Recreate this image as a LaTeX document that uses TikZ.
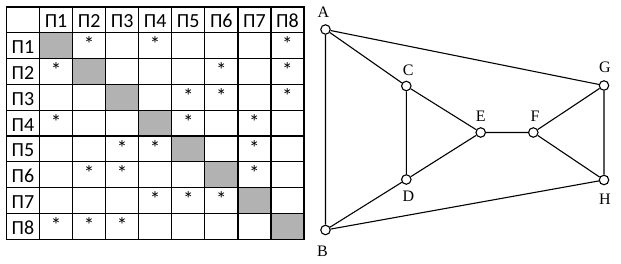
\documentclass[tikz,border=0pt]{standalone}
\usepackage{fontspec}
\setmainfont{Liberation Serif}
\newfontfamily\tabfont{Carlito}
\usepackage{tikz}
\usetikzlibrary{positioning}

\begin{document}
\begin{tikzpicture}[x=1pt, y=-1pt, line/.style={draw, line width=1.1pt},
  vtx/.style={circle, draw, line width=1.1pt, fill=white, inner sep=0pt, minimum size=9.5pt},
  lbl/.style={font=\fontsize{16}{19}\selectfont},
  cell/.style={anchor=base, inner sep=0pt, font=\tabfont\fontsize{20}{22}\selectfont},
  ast/.style={inner sep=0pt, font=\tabfont\fontsize{21}{24}\selectfont}]
\useasboundingbox (0,0) rectangle (621,264);
% table
\begin{scope}[shift={(6.5,7)}, x=33.05pt, y=-25.8pt]
\foreach \k in {1,...,8} \fill[black!30] (\k,\k) rectangle (\k+1,\k+1);
\foreach \k in {1,...,8} {
  \draw[line width=1.3pt] (\k,0) -- (\k,9);
  \draw[line width=1.3pt] (0,\k) -- (9,\k);
}
\draw[line width=1.3pt] (0,0) rectangle (9,9);
\foreach \k in {1,...,8} {
  \node[cell] (c\k) at (\k+0.5,0.81) {П\k};
  \node[cell] (r\k) at (0.5,\k+0.81) {П\k};
}
\foreach \r/\c in {1/2,1/4,1/8, 2/1,2/6,2/8, 3/5,3/6,3/8, 4/1,4/5,4/7,
                   5/3,5/4,5/7, 6/2,6/3,6/7, 7/4,7/5,7/6, 8/1,8/2,8/3}
  \node[ast] (s\r\c) at (\c+0.5,\r+0.45) {*};
\end{scope}
% graph
\node[vtx] (A) at (325.5,29.5) {};
\node[vtx] (B) at (325.5,230) {};
\node[vtx] (C) at (406.3,86) {};
\node[vtx] (D) at (406.3,179.5) {};
\node[vtx] (E) at (480.7,132.5) {};
\node[vtx] (F) at (533.3,132.5) {};
\node[vtx] (G) at (604,85.5) {};
\node[vtx] (H) at (604,180) {};
\node[lbl] (lA) at (323.5,12) {A};
\node[lbl] (lB) at (322.5,251) {B};
\node[lbl] (lC) at (408.3,70) {C};
\node[lbl] (lD) at (408.3,196.5) {D};
\node[lbl] (lE) at (480.7,116.5) {E};
\node[lbl] (lF) at (535,116.5) {F};
\node[lbl] (lG) at (605,67) {G};
\node[lbl] (lH) at (605,199.5) {H};
\draw[line] (A) -- (B) -- (H) -- (G) -- (A) -- (C) -- (D) -- (B);
\draw[line] (C) -- (E) -- (D);
\draw[line] (E) -- (F) -- (G);
\draw[line] (F) -- (H);
\end{tikzpicture}
\end{document}
